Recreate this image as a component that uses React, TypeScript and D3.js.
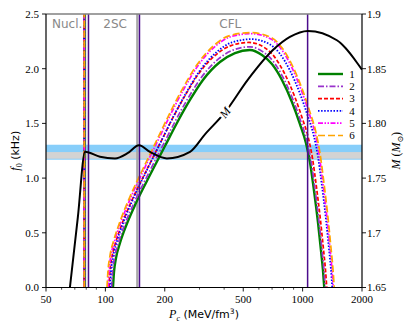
import React, { useEffect, useRef } from 'react';
import * as d3 from 'd3';

const W = 415;
const H = 332;
const left = 46, right = 362, top = 14, bottom = 287.5;

const pTicks = [50, 100, 200, 500, 1000, 2000];
const pMinor = [60, 70, 80, 90, 300, 400, 600, 700, 800, 900];
const fTicks = [0, 0.5, 1, 1.5, 2, 2.5];
const mTicks = [1.65, 1.7, 1.75, 1.8, 1.85, 1.9];
const mTickLabels = ['1.65', '1.7', '1.75', '1.80', '1.85', '1.9'];

const names = ['1', '2', '3', '4', '5', '6'];
const colors = ['#008000', '#9932cc', '#ff0000', '#0000ff', '#ff00ff', '#ffa500'];
const dashes = ['none', '6,2,1.5,2', '4,2', '1.5,1.6', '5,1.5,1.5,1.5,1.5,1.5', '7,3'];
const widths = [2.4, 1.7, 1.7, 1.8, 1.7, 1.7];

// hadronic branch, nearly vertical
const nuclP = [78.3, 78.2, 78.2, 78.2, 78.1, 78.1];

// quark branch, one list per EoS
const p1 = [109.3, 110.6, 113.2, 118.6, 127.2, 142.9, 168.3, 200.5, 230.6, 268.4, 312.4, 380.9, 453.9, 540.7, 622.1, 699, 785.5, 882.6, 969.3, 1039.5, 1089, 1141, 1195.5, 1238, 1267.5, 1287];
const f1 = [0, 0.142, 0.27, 0.407, 0.562, 0.772, 1.028, 1.293, 1.504, 1.714, 1.897, 2.061, 2.143, 2.171, 2.125, 2.043, 1.897, 1.696, 1.494, 1.321, 1.147, 0.891, 0.599, 0.343, 0.16, 0];
const p2 = [107.4, 108.7, 111.3, 116.6, 125, 140.5, 165.4, 197.1, 226.7, 263.8, 307.1, 374.4, 446.2, 540, 629.6, 707.4, 794.9, 893.2, 980.9, 1052, 1102, 1154.7, 1209.8, 1252.9, 1282.7, 1302.4];
const f2 = [0, 0.144, 0.274, 0.412, 0.57, 0.782, 1.042, 1.31, 1.524, 1.737, 1.922, 2.089, 2.172, 2.2, 2.154, 2.07, 1.922, 1.719, 1.514, 1.339, 1.162, 0.903, 0.607, 0.348, 0.162, 0];
const p3 = [104.3, 105.5, 108, 113.1, 121.3, 136.3, 160.6, 191.3, 220, 256.1, 298, 363.4, 433, 535, 640.8, 720, 809.1, 909.1, 998.4, 1070.7, 1121.7, 1175.2, 1231.4, 1275.1, 1305.5, 1325.6];
const f3 = [0, 0.147, 0.279, 0.42, 0.58, 0.797, 1.061, 1.334, 1.552, 1.768, 1.957, 2.127, 2.211, 2.24, 2.193, 2.108, 1.957, 1.75, 1.541, 1.363, 1.183, 0.919, 0.618, 0.354, 0.165, 0];
const p4 = [105.6, 106.8, 109.4, 114.6, 122.9, 138, 162.6, 193.7, 222.8, 259.3, 301.8, 367.9, 438.5, 551.5, 683.1, 767.5, 862.5, 969.1, 1064.3, 1141.4, 1195.7, 1252.8, 1312.7, 1359.3, 1391.7, 1413.1];
const f4 = [0, 0.148, 0.282, 0.426, 0.588, 0.807, 1.075, 1.352, 1.573, 1.792, 1.984, 2.155, 2.241, 2.27, 2.222, 2.136, 1.984, 1.773, 1.562, 1.381, 1.199, 0.932, 0.626, 0.359, 0.167, 0];
const p5 = [103.1, 104.3, 106.7, 111.8, 120, 134.8, 158.7, 189.1, 217.5, 253.1, 294.6, 359.2, 428, 546, 691.2, 776.6, 872.7, 980.6, 1076.9, 1154.9, 1209.9, 1267.7, 1328.2, 1375.4, 1408.2, 1429.9];
const f5 = [0, 0.152, 0.289, 0.435, 0.601, 0.825, 1.099, 1.382, 1.607, 1.832, 2.027, 2.202, 2.29, 2.32, 2.271, 2.183, 2.027, 1.812, 1.597, 1.412, 1.226, 0.952, 0.64, 0.367, 0.171, 0];
const p6 = [101.9, 103.1, 105.5, 110.5, 118.6, 133.2, 156.9, 186.9, 214.9, 250.1, 291.2, 355, 423, 546, 699.2, 785.7, 882.9, 992, 1089.5, 1168.4, 1224, 1282.5, 1343.7, 1391.5, 1424.7, 1446.6];
const f6 = [0, 0.152, 0.29, 0.437, 0.603, 0.829, 1.103, 1.388, 1.614, 1.839, 2.036, 2.212, 2.3, 2.33, 2.281, 2.192, 2.036, 1.82, 1.603, 1.418, 1.231, 0.956, 0.643, 0.368, 0.172, 0];
const quarkP = [p1, p2, p3, p4, p5, p6];
const quarkF = [f1, f2, f3, f4, f5, f6];

// mass curve (right axis)
const mP = [66.1, 72.5, 78.9, 93.9, 111.9, 130.2, 148, 168.3, 205, 268.5, 319.8, 403.9, 528, 707, 862, 1064, 1492, 2000];
const mVal = [1.65, 1.714, 1.774, 1.7695, 1.768, 1.773, 1.78, 1.774, 1.768, 1.774, 1.79, 1.81, 1.84, 1.867, 1.879, 1.8845, 1.876, 1.849];

const greyLines = [78.9, 145.1];
const purpleLines = [82.1, 148.9, 1060];
const blueBand = [1.168, 1.305];
const greyBand = [1.177, 1.238];

const regions = [
  { text: 'Nucl.', p: 64 },
  { text: '2SC', p: 112 },
  { text: 'CFL', p: 430 },
];

const serif = '"Liberation Serif", "DejaVu Serif", serif';
const sans = '"DejaVu Sans", sans-serif';

export default function App() {
  const svgRef = useRef<SVGSVGElement>(null);

  useEffect(() => {
    const svg = d3.select(svgRef.current);
    svg.selectAll('*').remove();

    const x = d3.scaleLog().domain([50, 2000]).range([left, right]);
    const y = d3.scaleLinear().domain([0, 2.5]).range([bottom, top]);
    const yM = d3.scaleLinear().domain([1.65, 1.9]).range([bottom, top]);

    svg.append('defs').append('clipPath').attr('id', 'plotclip')
      .append('rect').attr('x', left).attr('y', top).attr('width', right - left).attr('height', bottom - top);

    const plot = svg.append('g').attr('clip-path', 'url(#plotclip)');

    plot.append('rect').attr('x', left).attr('width', right - left)
      .attr('y', y(blueBand[1])).attr('height', y(blueBand[0]) - y(blueBand[1]))
      .attr('fill', '#87cefa');
    plot.append('rect').attr('x', left).attr('width', right - left)
      .attr('y', y(greyBand[1])).attr('height', y(greyBand[0]) - y(greyBand[1]))
      .attr('fill', '#d3d3d3');

    greyLines.forEach(p => {
      plot.append('line').attr('x1', x(p)).attr('x2', x(p)).attr('y1', top).attr('y2', bottom)
        .attr('stroke', '#a8a8a8').attr('stroke-width', 2.2);
    });

    const fLine = d3.line<[number, number]>()
      .x(d => x(d[0])).y(d => y(d[1])).curve(d3.curveMonotoneX);

    names.forEach((_, i) => {
      const nucl: [number, number][] = [[nuclP[i], 0], [nuclP[i], 2.6]];
      const quark: [number, number][] = quarkP[i].map((p, j) => [p, quarkF[i][j]]);
      plot.append('path').attr('d', d3.line<[number, number]>().x(d => x(d[0])).y(d => y(d[1]))(nucl))
        .attr('fill', 'none').attr('stroke', colors[i]).attr('stroke-width', widths[i])
        .attr('stroke-dasharray', dashes[i]);
      plot.append('path').attr('d', fLine(quark))
        .attr('fill', 'none').attr('stroke', colors[i]).attr('stroke-width', widths[i])
        .attr('stroke-dasharray', dashes[i]);
    });

    purpleLines.forEach(p => {
      plot.append('line').attr('x1', x(p)).attr('x2', x(p)).attr('y1', top).attr('y2', bottom)
        .attr('stroke', '#4b0d8c').attr('stroke-width', 1.5);
    });

    const mLine = d3.line<number>()
      .x((d, i) => x(mP[i])).y(d => yM(d)).curve(d3.curveMonotoneX);
    plot.append('path').attr('d', mLine(mVal))
      .attr('fill', 'none').attr('stroke', 'black').attr('stroke-width', 2);

    // inline label on M curve
    const lx = x(403.9), ly = yM(1.81);
    const ang = Math.atan2(yM(1.84) - yM(1.79), x(528) - x(319.8)) * 180 / Math.PI;
    plot.append('text').attr('transform', `translate(${lx},${ly}) rotate(${ang})`)
      .attr('text-anchor', 'middle').attr('dy', '0.35em')
      .attr('font-family', serif).attr('font-style', 'italic').attr('font-size', 12)
      .attr('stroke', 'white').attr('stroke-width', 5).attr('paint-order', 'stroke')
      .text('M');

    regions.forEach(r => {
      svg.append('text').attr('x', x(r.p)).attr('y', 28).attr('text-anchor', 'middle')
        .attr('font-family', sans).attr('font-size', 12).attr('fill', '#888')
        .text(r.text);
    });

    // spines
    svg.append('line').attr('x1', left).attr('x2', right).attr('y1', top).attr('y2', top)
      .attr('stroke', '#808080').attr('stroke-width', 1.5);
    svg.append('line').attr('x1', left).attr('x2', right).attr('y1', bottom).attr('y2', bottom)
      .attr('stroke', 'black').attr('stroke-width', 1.2);
    svg.append('line').attr('x1', left).attr('x2', left).attr('y1', top).attr('y2', bottom)
      .attr('stroke', 'black').attr('stroke-width', 1.2);
    svg.append('line').attr('x1', right).attr('x2', right).attr('y1', top).attr('y2', bottom)
      .attr('stroke', 'black').attr('stroke-width', 1.2);

    // bottom ticks
    pTicks.forEach(p => {
      svg.append('line').attr('x1', x(p)).attr('x2', x(p)).attr('y1', bottom).attr('y2', bottom + 4)
        .attr('stroke', 'black').attr('stroke-width', 0.9);
      svg.append('text').attr('x', x(p)).attr('y', bottom + 15).attr('text-anchor', 'middle')
        .attr('font-family', serif).attr('font-size', 11).text(String(p));
    });
    pMinor.forEach(p => {
      svg.append('line').attr('x1', x(p)).attr('x2', x(p)).attr('y1', bottom).attr('y2', bottom + 2.2)
        .attr('stroke', 'black').attr('stroke-width', 0.7);
    });

    // left ticks
    fTicks.forEach(f => {
      svg.append('line').attr('x1', left - 4).attr('x2', left).attr('y1', y(f)).attr('y2', y(f))
        .attr('stroke', 'black').attr('stroke-width', 0.9);
      svg.append('text').attr('x', left - 7).attr('y', y(f)).attr('dy', '0.35em').attr('text-anchor', 'end')
        .attr('font-family', serif).attr('font-size', 11).text(d3.format('.1f')(f));
    });

    // right ticks
    mTicks.forEach((m, i) => {
      svg.append('line').attr('x1', right).attr('x2', right + 4).attr('y1', yM(m)).attr('y2', yM(m))
        .attr('stroke', 'black').attr('stroke-width', 0.9);
      svg.append('text').attr('x', right + 5).attr('y', yM(m)).attr('dy', '0.35em')
        .attr('font-family', serif).attr('font-size', 11).text(mTickLabels[i]);
    });

    // axis labels
    const yl = svg.append('text').attr('transform', `translate(19,${(top + bottom) / 2}) rotate(-90)`)
      .attr('text-anchor', 'middle').attr('font-size', 11);
    yl.append('tspan').attr('font-family', serif).attr('font-style', 'italic').attr('font-size', 12).text('f');
    yl.append('tspan').attr('font-family', serif).attr('font-size', 8).attr('dy', 3).text('0');
    yl.append('tspan').attr('font-family', sans).attr('dy', -3).text(' (kHz)');

    const xl = svg.append('text').attr('x', (left + right) / 2).attr('y', 318)
      .attr('text-anchor', 'middle').attr('font-size', 11);
    xl.append('tspan').attr('font-family', serif).attr('font-style', 'italic').attr('font-size', 12).text('P');
    xl.append('tspan').attr('font-family', serif).attr('font-style', 'italic').attr('font-size', 8).attr('dy', 3).text('c');
    xl.append('tspan').attr('font-family', sans).attr('dy', -3).text(' (MeV/fm');
    xl.append('tspan').attr('font-family', sans).attr('font-size', 7.5).attr('dy', -4).text('3');
    xl.append('tspan').attr('font-family', sans).attr('dy', 4).text(')');

    const rl = svg.append('text').attr('transform', `translate(400,${(top + bottom) / 2}) rotate(-90)`)
      .attr('text-anchor', 'middle').attr('font-family', serif).attr('font-size', 12);
    rl.append('tspan').attr('font-style', 'italic').text('M');
    rl.append('tspan').text(' (');
    rl.append('tspan').attr('font-style', 'italic').text('M');
    rl.append('tspan').attr('font-size', 8).attr('dy', 3).text('\u2299');
    rl.append('tspan').attr('dy', -3).text(')');

    // legend
    names.forEach((n, i) => {
      const ly2 = 74 + i * 12.3;
      svg.append('line').attr('x1', 318).attr('x2', 343).attr('y1', ly2).attr('y2', ly2)
        .attr('stroke', colors[i]).attr('stroke-width', widths[i]).attr('stroke-dasharray', dashes[i]);
      svg.append('text').attr('x', 352).attr('y', ly2).attr('dy', '0.35em').attr('text-anchor', 'middle')
        .attr('font-family', serif).attr('font-size', 11).text(n);
    });
  }, []);

  return (
    <svg ref={svgRef} width={W} height={H}
      style={{ position: 'absolute', left: 0, top: 0, display: 'block', background: 'white' }} />
  );
}
